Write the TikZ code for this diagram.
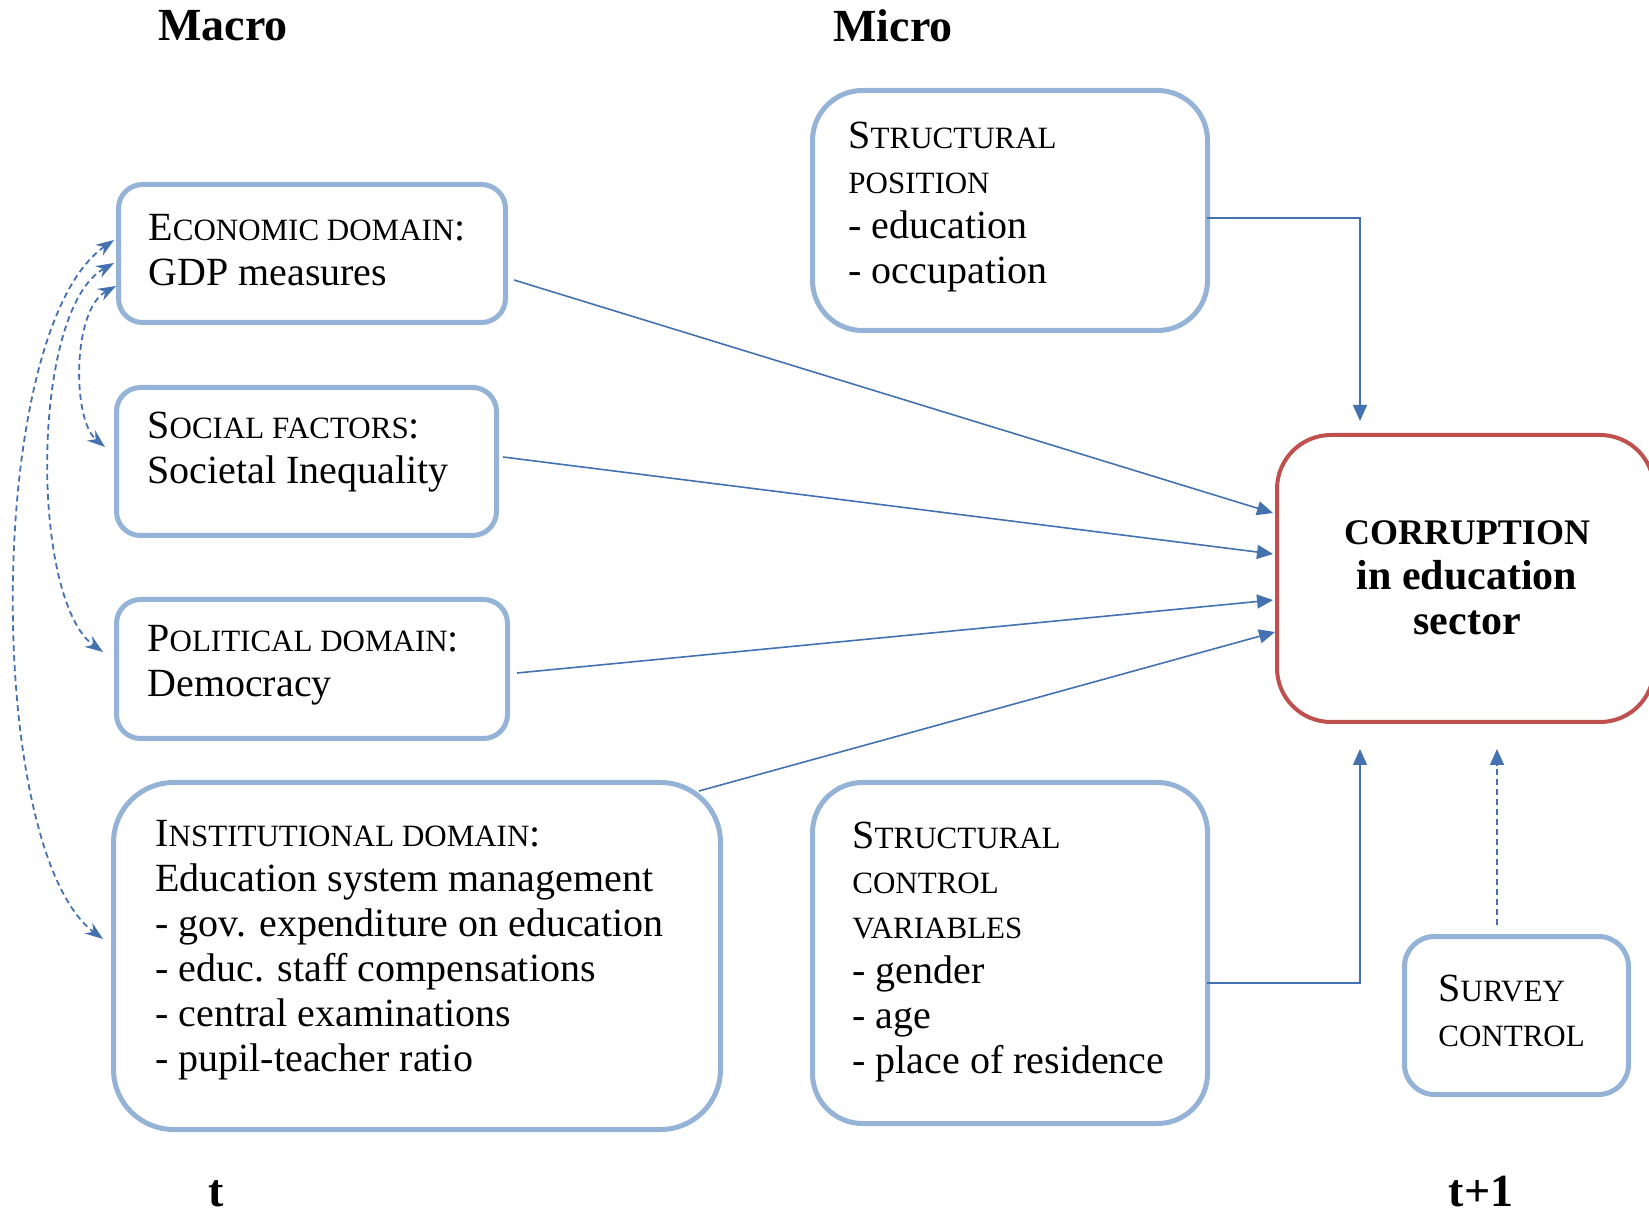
\documentclass[tikz,border=0pt]{standalone}
\usepackage{fontspec}
\setmainfont{Liberation Serif}
\usetikzlibrary{arrows.meta}
\definecolor{boxblue}{RGB}{149,179,215}
\definecolor{arrblue}{RGB}{68,114,176}
\definecolor{corrred}{RGB}{192,80,77}
\newcommand\sck[1]{{\fontsize{15.5}{22.5}\selectfont #1}}
\begin{document}
\begin{tikzpicture}[x=0.5pt,y=-0.5pt,
  bluebox/.style={draw=boxblue, line width=2.5pt, fill=white, inner sep=0pt, anchor=north west},
  redbox/.style={draw=corrred, line width=2pt, fill=white, inner sep=0pt, anchor=north west, rounded corners=27pt},
  txt/.style={font=\fontsize{20}{22.5}\selectfont, align=left, inner sep=0pt, anchor=west},
  hdr/.style={font=\bfseries\fontsize{23}{27}\selectfont, inner sep=0pt},
  arr/.style={draw=arrblue, line width=0.8pt, -{Triangle[length=8pt,width=7pt]}},
  darr/.style={draw=arrblue, line width=0.9pt, dash pattern=on 3pt off 2pt, {Stealth[length=9pt,width=6.5pt]}-{Stealth[length=9pt,width=6.5pt]}},
]
\useasboundingbox (0,0) rectangle (1649,1218);

% headers
\node[hdr, anchor=west] (macro) at (158,26) {Macro};
\node[hdr, anchor=west] (micro) at (833,26) {Micro};
\node[hdr] (tnow) at (216,1194) {t};
\node[hdr] (tnext) at (1481,1192) {t+1};

% boxes
\node[bluebox, rounded corners=12pt, minimum width=193.5pt, minimum height=69pt] (econ) at (116,182) {};
\node[txt] (econt) at (148,250) {E\sck{CONOMIC DOMAIN}:\\GDP measures};

\node[bluebox, rounded corners=12pt, minimum width=190pt, minimum height=74pt] (soc) at (114,385) {};
\node[txt] (soct) at (147,452) {S\sck{OCIAL FACTORS}:\\Societal Inequality};

\node[bluebox, rounded corners=12pt, minimum width=195.5pt, minimum height=69.5pt] (pol) at (114,597) {};
\node[txt] (polt) at (147,665) {P\sck{OLITICAL DOMAIN}:\\Democracy};

\node[bluebox, rounded corners=30pt, minimum width=303.5pt, minimum height=173.5pt] (inst) at (111,780) {};
\node[txt] (instt) at (155,950) {I\sck{NSTITUTIONAL DOMAIN}:\\Education system management\\- gov. expenditure on education\\- educ. staff compensations\\- central examinations\\- pupil-teacher ratio};

\node[bluebox, rounded corners=25pt, minimum width=197.5pt, minimum height=120pt] (spos) at (810,88) {};
\node[txt] (spost) at (848,207) {S\sck{TRUCTURAL}\\\sck{POSITION}\\- education\\- occupation};

\node[bluebox, rounded corners=25pt, minimum width=197.5pt, minimum height=170.5pt] (sctrl) at (810,780) {};
\node[txt] (sctrlt) at (852,952) {S\sck{TRUCTURAL}\\\sck{CONTROL}\\\sck{VARIABLES}\\- gender\\- age\\- place of residence};

\node[bluebox, rounded corners=15pt, minimum width=112pt, minimum height=79pt] (surv) at (1402,934) {};
\node[txt] (survt) at (1438,1011) {S\sck{URVEY}\\\sck{CONTROL}};

\node[redbox, minimum width=188.5pt, minimum height=143.5pt] (corr) at (1275,433) {};
\node[font=\bfseries\fontsize{18}{22.5}\selectfont, align=center, inner sep=0pt] (corrt) at (1467,578) {CORRUPTION\\{\fontsize{21}{22.5}\selectfont in education}\\{\fontsize{21}{22.5}\selectfont sector}};

% connector end points
\coordinate (e1) at (514,280);
\coordinate (s1) at (503,457);
\coordinate (p1) at (517,673);
\coordinate (i1) at (699,791);
\coordinate (c1) at (1273,513);
\coordinate (c2) at (1273,554);
\coordinate (c3) at (1273,600);
\coordinate (c4) at (1275,632);
\coordinate (spout) at (1207,218);
\coordinate (ctop) at (1360,421);
\coordinate (scout) at (1207,983);
\coordinate (cbot1) at (1360,749);
\coordinate (svout) at (1497,925);
\coordinate (cbot2) at (1497,749);

\draw[arr] (e1) -- (c1);
\draw[arr] (s1) -- (c2);
\draw[arr] (p1) -- (c3);
\draw[arr] (i1) -- (c4);
\draw[arr] (spout) -| (ctop);
\draw[arr] (scout) -| (cbot1);
\draw[arr, dash pattern=on 3pt off 2pt] (svout) -- (cbot2);

% dashed correlation arcs
\coordinate (d1s) at (114,240);
\coordinate (d1e) at (103,939);
\coordinate (d2s) at (114,263);
\coordinate (d2e) at (103,652);
\coordinate (d3s) at (116,286);
\coordinate (d3e) at (105,447);
\draw[darr] (d1s) .. controls (-16,330) and (-16,850) .. (d1e);
\draw[darr] (d2s) .. controls (30,310) and (30,600) .. (d2e);
\draw[darr] (d3s) .. controls (72,310) and (72,420) .. (d3e);
\end{tikzpicture}
\end{document}
